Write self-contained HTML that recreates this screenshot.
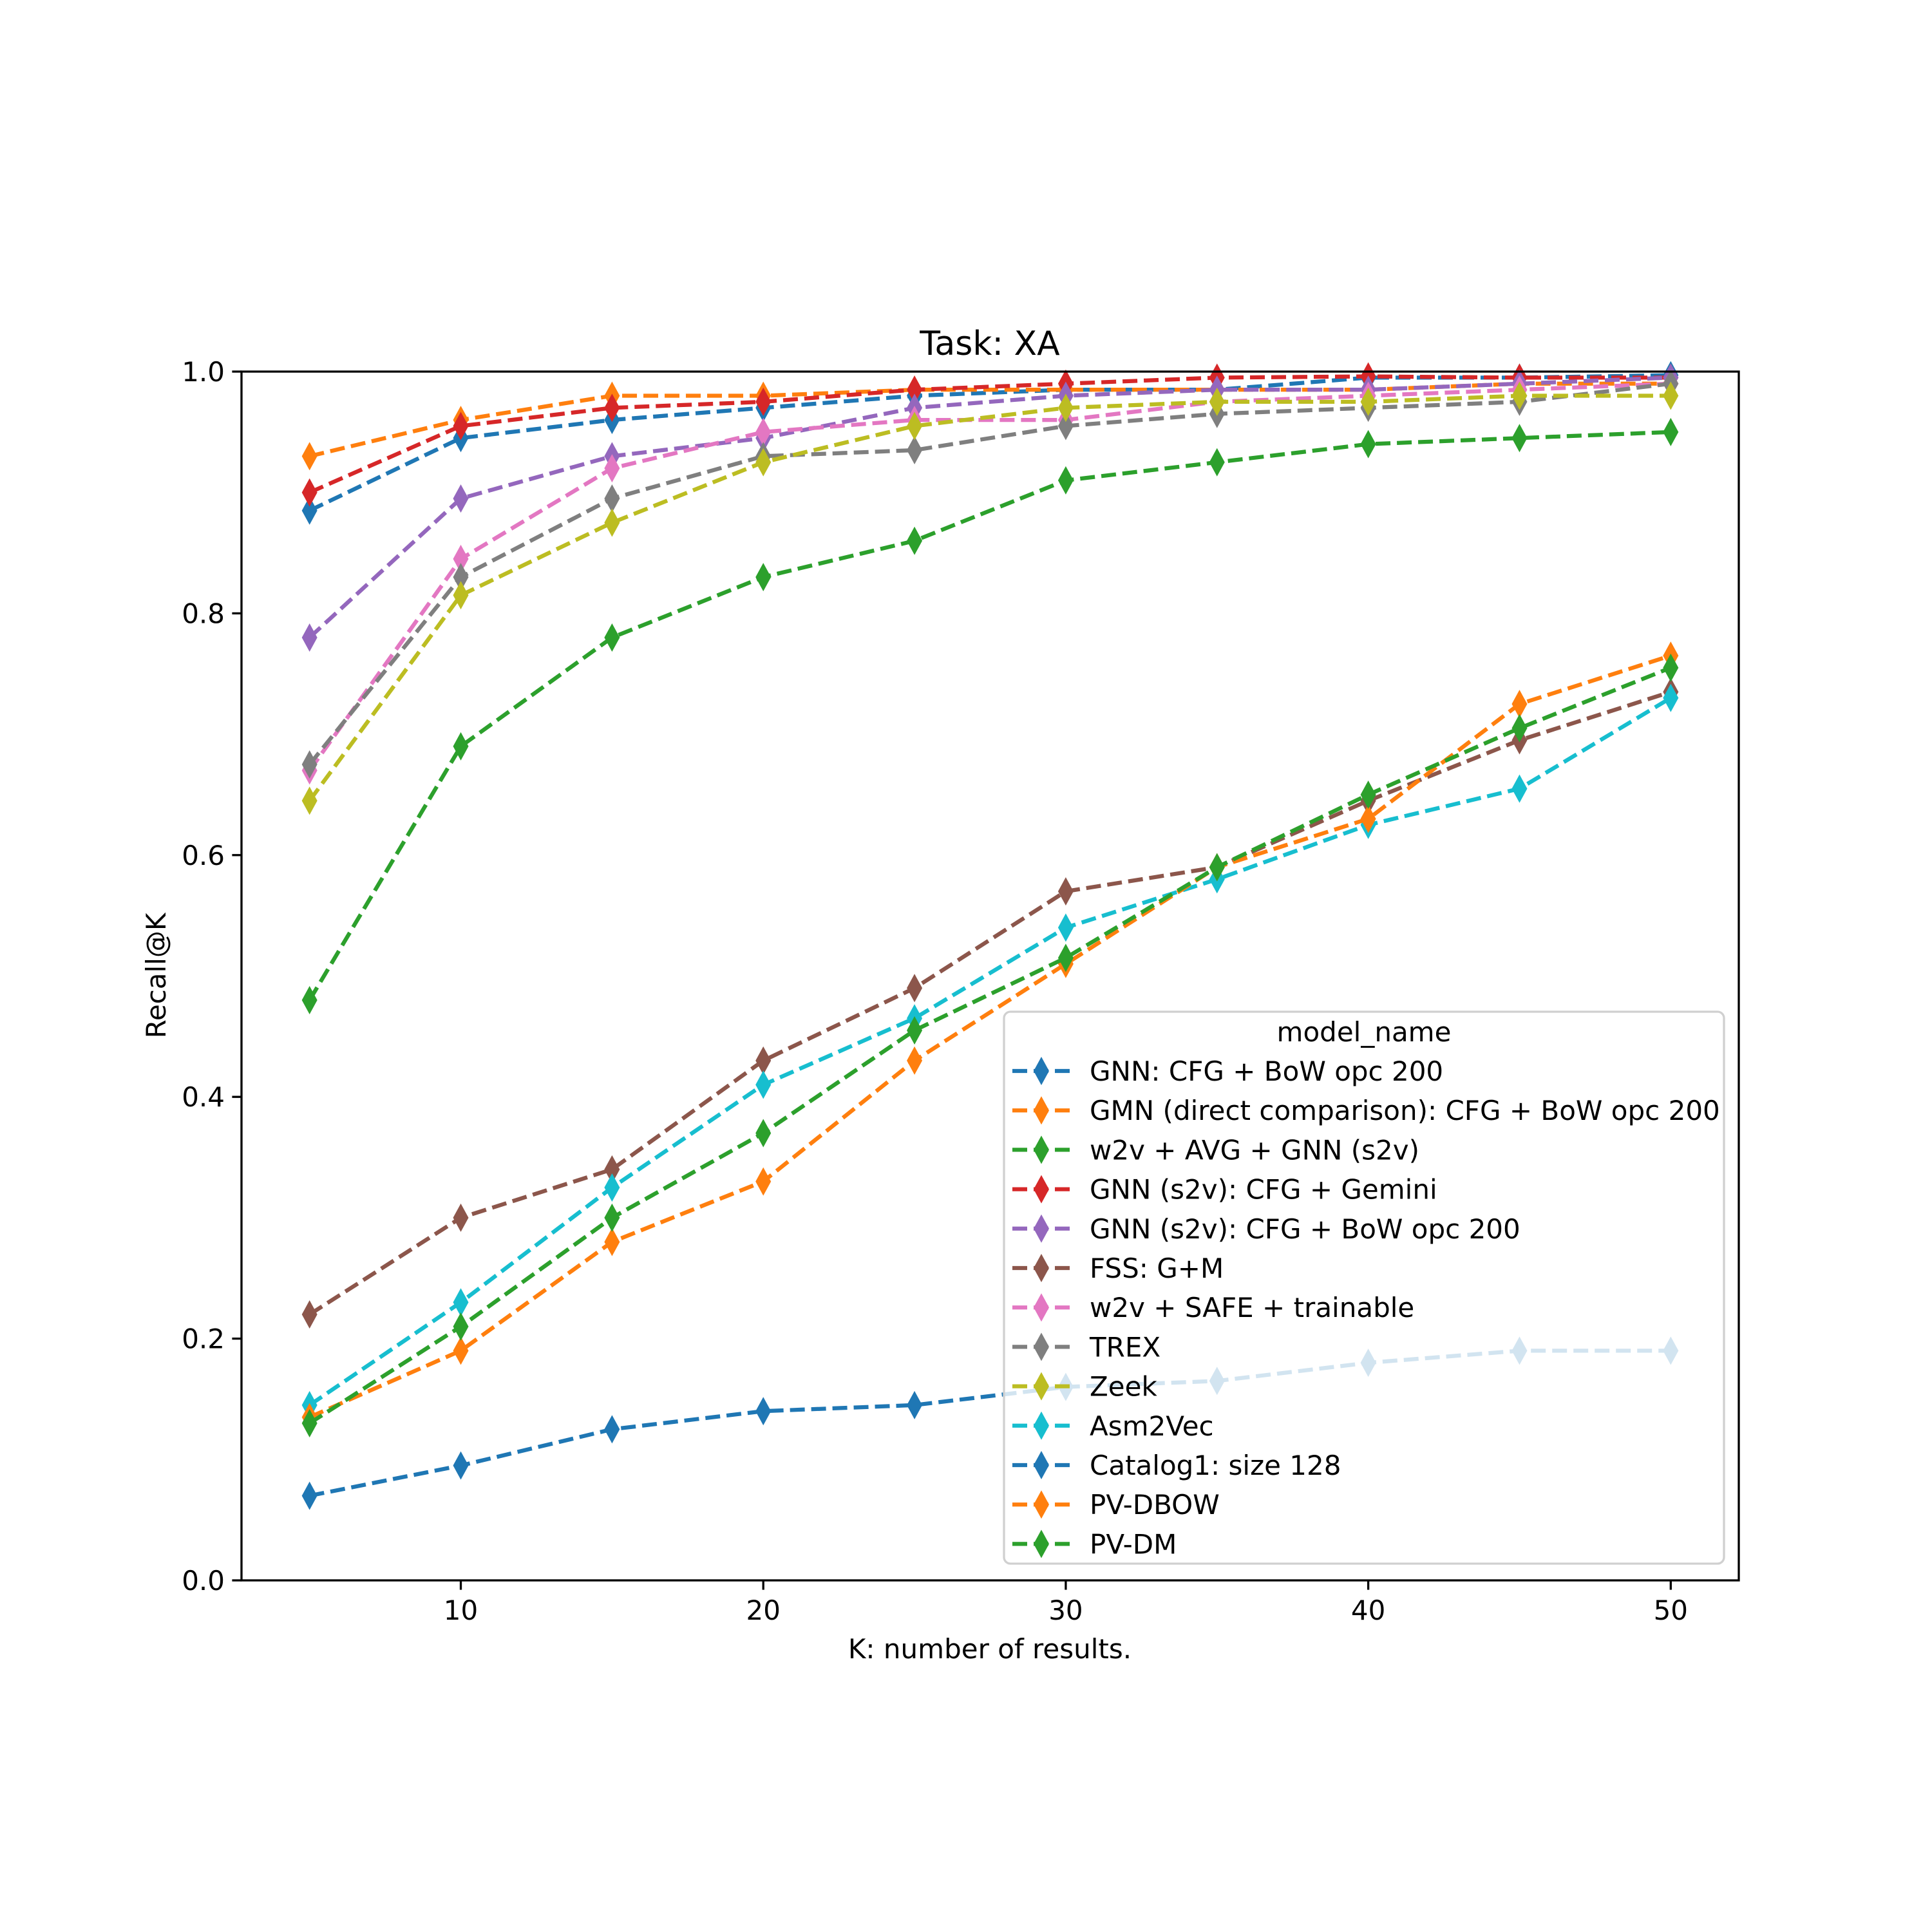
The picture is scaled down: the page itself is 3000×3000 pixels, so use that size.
<!DOCTYPE html>
<html><head><meta charset="utf-8"><style>
html,body{margin:0;padding:0;background:#fff;}
svg{display:block;font-family:"DejaVu Sans","Liberation Sans",sans-serif;}
</style></head><body>
<svg id="chart" width="3000" height="3000" viewBox="0 0 3000 3000" xmlns="http://www.w3.org/2000/svg">
<rect x="0" y="0" width="3000" height="3000" fill="#fff"/>
<g id="plot"></g>
<text x="1537" y="551" font-size="52" text-anchor="middle">Task: XA</text>
<text x="1537" y="2575" font-size="42" text-anchor="middle">K: number of results.</text>
<text transform="translate(257,1515) rotate(-90)" font-size="42" text-anchor="middle">Recall@K</text>
</svg>
<script>
const kValues=[5,10,15,20,25,30,35,40,45,50];
const seriesNames=["GNN: CFG + BoW opc 200","GMN (direct comparison): CFG + BoW opc 200","w2v + AVG + GNN (s2v)","GNN (s2v): CFG + Gemini","GNN (s2v): CFG + BoW opc 200","FSS: G+M","w2v + SAFE + trainable","TREX","Zeek","Asm2Vec","Catalog1: size 128","PV-DBOW","PV-DM"];
const s0=[0.885,0.945,0.96,0.97,0.98,0.985,0.985,0.995,0.995,0.997];
const s1=[0.93,0.96,0.98,0.98,0.985,0.985,0.985,0.985,0.99,0.99];
const s2=[0.48,0.69,0.78,0.83,0.86,0.91,0.925,0.94,0.945,0.95];
const s3=[0.90,0.955,0.97,0.975,0.985,0.99,0.995,0.996,0.995,0.995];
const s4=[0.78,0.895,0.93,0.945,0.97,0.98,0.985,0.985,0.99,0.995];
const s5=[0.22,0.30,0.34,0.43,0.49,0.57,0.59,0.645,0.695,0.735];
const s6=[0.67,0.845,0.92,0.95,0.96,0.96,0.975,0.98,0.985,0.99];
const s7=[0.675,0.83,0.895,0.93,0.935,0.955,0.965,0.97,0.975,0.99];
const s8=[0.645,0.815,0.875,0.925,0.955,0.97,0.975,0.975,0.98,0.98];
const s9=[0.145,0.23,0.325,0.41,0.465,0.54,0.58,0.625,0.655,0.73];
const s10=[0.07,0.095,0.125,0.14,0.145,0.16,0.165,0.18,0.19,0.19];
const s11=[0.135,0.19,0.28,0.33,0.43,0.51,0.59,0.63,0.725,0.765];
const s12=[0.13,0.21,0.30,0.37,0.455,0.515,0.59,0.65,0.705,0.755];
const xTicks=[10,20,30,40,50];
const yTicks=[0.0,0.2,0.4,0.6,0.8,1.0];

const allSeries=[s0,s1,s2,s3,s4,s5,s6,s7,s8,s9,s10,s11,s12];
const colors=["#1f77b4","#ff7f0e","#2ca02c","#d62728","#9467bd","#8c564b","#e377c2","#7f7f7f","#bcbd22","#17becf","#1f77b4","#ff7f0e","#2ca02c"];
const L=375,R=2700,T=577,B=2454;
const xmin=2.75,xmax=52.25;
const sx=v=>L+(v-xmin)/(xmax-xmin)*(R-L);
const sy=v=>B-v*(B-T);
const NS="http://www.w3.org/2000/svg";
const plot=document.getElementById('plot');
function mk(tag,attrs,parent){const e=document.createElementNS(NS,tag);for(const k in attrs)e.setAttribute(k,attrs[k]);(parent||plot).appendChild(e);return e;}
function diamond(x,y){return `M${x},${y-22} L${x+12},${y} L${x},${y+22} L${x-12},${y} Z`;}

const clip=mk('clipPath',{id:'axclip'});
mk('rect',{x:L,y:T-30,width:R-L,height:B-T+60},clip);

allSeries.forEach((s,i)=>{
  const g=mk('g',{'clip-path':'url(#axclip)'});
  
  
  const pts=s.map((v,j)=>sx(kValues[j])+','+sy(v)).join(' ');
  const line=mk('polyline',{points:pts,fill:'none',stroke:colors[i],'stroke-width':6.25,'stroke-dasharray':'23 10'},g);
  
  
  s.forEach((v,j)=>{
    const p=mk('path',{d:diamond(sx(kValues[j]),sy(v)),fill:colors[i]},g);
    
    
  });
});

const frame=mk('rect',{x:L,y:T,width:R-L,height:B-T,fill:'none',stroke:'#000','stroke-width':3.3});



xTicks.forEach(t=>{
  const x=sx(t);
  const tk=mk('line',{x1:x,y1:B,x2:x,y2:B+14.6,stroke:'#000','stroke-width':3.3});
  
  
  const tx=mk('text',{x:x,y:B+61,'font-size':42,'text-anchor':'middle'});
  tx.textContent=t;
  
  
});
yTicks.forEach(t=>{
  const y=sy(t);
  const tk=mk('line',{x1:L-14.6,y1:y,x2:L,y2:y,stroke:'#000','stroke-width':3.3});
  
  
  const tx=mk('text',{x:L-26,y:y+15,'font-size':42,'text-anchor':'end'});
  tx.textContent=t.toFixed(1);
  
  
});

const lg=mk('g',{});


const lgBox=mk('rect',{x:1559,y:1571,width:1118,height:857,rx:10,fill:'rgba(255,255,255,0.8)',stroke:'#d0d0d0','stroke-width':3.3},lg);


const lt=mk('text',{x:2118,y:1617,'font-size':42,'text-anchor':'middle'},lg);
lt.textContent='model_name';


seriesNames.forEach((n,i)=>{
  const y=1663+i*61.2;
  const e=mk('g',{},lg);
  
  
  mk('line',{x1:1572,y1:y,x2:1664,y2:y,stroke:colors[i],'stroke-width':6.25,'stroke-dasharray':'23 10'},e);
  mk('path',{d:diamond(1617,y),fill:colors[i]},e);
  const t=mk('text',{x:1692,y:y+15,'font-size':42},e);
  t.textContent=n;
});
</script>
</body></html>
